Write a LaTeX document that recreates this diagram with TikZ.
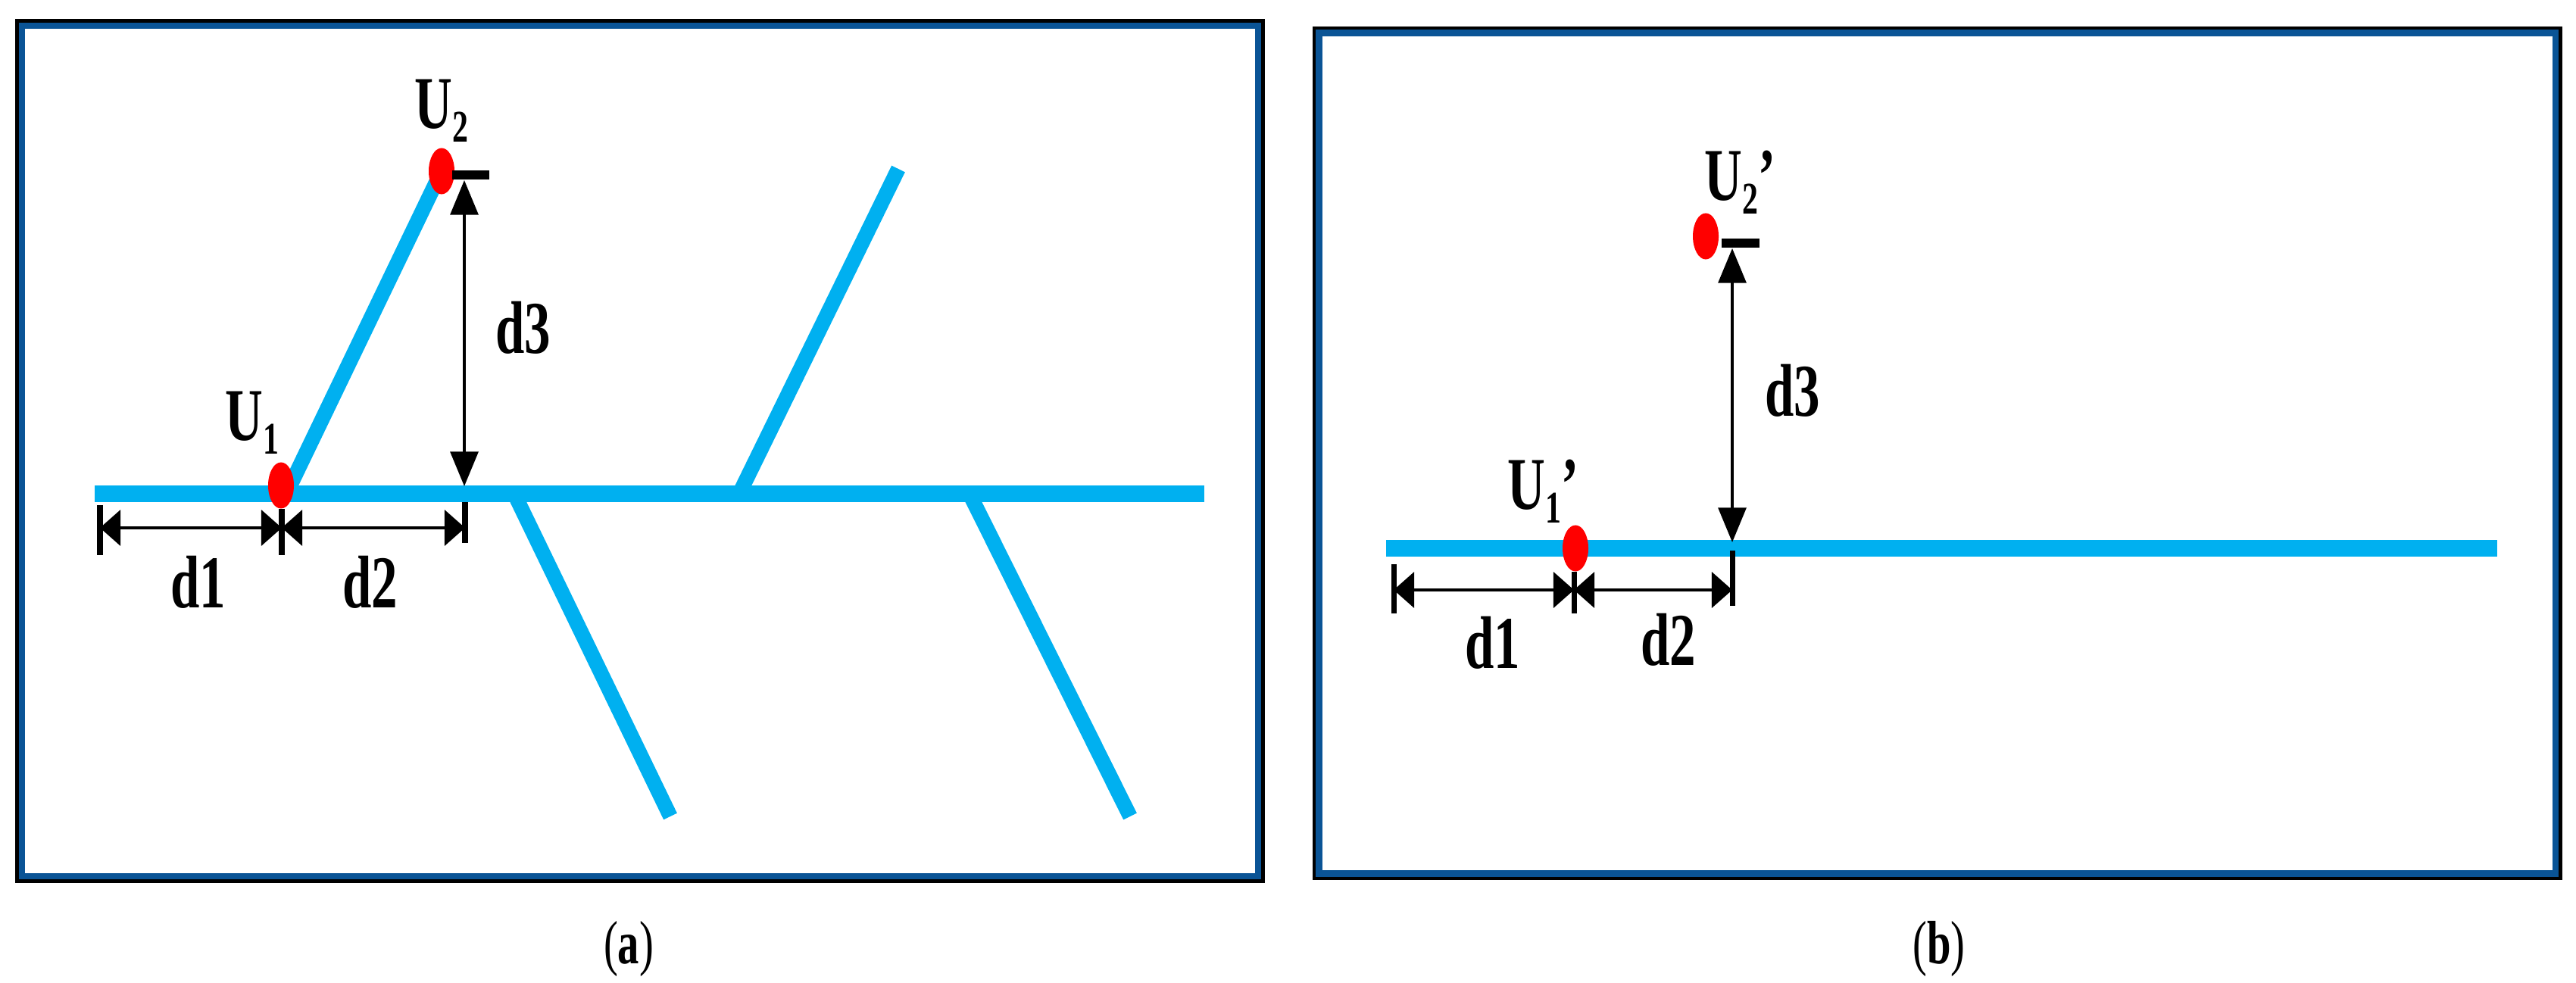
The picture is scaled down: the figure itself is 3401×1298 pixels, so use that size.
\documentclass[tikz,border=0pt]{standalone}
\usepackage{fontspec}
\setmainfont{Liberation Serif}
\usepackage{graphicx}
\usetikzlibrary{arrows.meta,shapes.geometric}
\definecolor{feeder}{RGB}{0,176,240}
\definecolor{framebl}{RGB}{10,84,150}
\newcommand{\lowidx}[1]{\raisebox{-5pt}{\fontsize{17pt}{17pt}\selectfont #1}}
\newcommand{\sqz}[1]{\scalebox{0.7}[1]{#1}}
\begin{document}
\begin{tikzpicture}[x=0.01cm,y=-0.01cm,
  feed/.style={line width=6.4pt,color=feeder},
  branch/.style={line width=5.6pt,color=feeder},
  dot/.style={ellipse,fill=red,minimum width=0.34cm,minimum height=0.61cm,inner sep=0pt},
  tickmark/.style={line width=2pt},
  capmark/.style={line width=3.2pt},
  dimarrow/.style={line width=1pt,{Triangle[length=7.7pt,width=13.4pt]}-{Triangle[length=7.7pt,width=13.4pt]}},
  varrow/.style={line width=1pt,{Triangle[length=13pt,width=10.5pt]}-{Triangle[length=13pt,width=10.5pt]}},
  lbl/.style={font=\fontsize{28pt}{30pt}\selectfont\bfseries,inner sep=0pt},
  captext/.style={font=\fontsize{23pt}{25pt}\selectfont,inner sep=0pt},
  outerframe/.style={draw=black,line width=1.4pt},
  innerframe/.style={draw=framebl,line width=2.3pt}]
\useasboundingbox (0,0) rectangle (3401,1298);
% ---------- panel (a) ----------
\draw[outerframe] (22.5,27.5) rectangle (1667.5,1163.5);
\draw[innerframe] (29,34) rectangle (1661,1157);
\coordinate (aL) at (125,652);
\coordinate (aR) at (1590,652);
\draw[feed] (aL) -- (aR);
\coordinate (a1s) at (378,652); \coordinate (a1e) at (580,232);
\coordinate (a2s) at (976,652); \coordinate (a2e) at (1186,223);
\coordinate (a3s) at (679,652); \coordinate (a3e) at (885,1078);
\coordinate (a4s) at (1280,652); \coordinate (a4e) at (1492,1078);
\draw[branch] (a1s) -- (a1e);
\draw[branch] (a2s) -- (a2e);
\draw[branch] (a3s) -- (a3e);
\draw[branch] (a4s) -- (a4e);
\node[dot] (u1) at (371,641) {};
\node[dot] (u2) at (583,226) {};
\coordinate (ca1) at (597,231); \coordinate (ca2) at (646,231);
\draw[capmark] (ca1) -- (ca2);
\coordinate (va1) at (613,238); \coordinate (va2) at (613,642);
\draw[varrow] (va1) -- (va2);
\coordinate (ta1) at (132,667); \coordinate (ta1b) at (132,733);
\coordinate (ta2) at (372,672); \coordinate (ta2b) at (372,733);
\coordinate (ta3) at (614,663); \coordinate (ta3b) at (614,717);
\draw[tickmark] (ta1) -- (ta1b);
\draw[tickmark] (ta2) -- (ta2b);
\draw[tickmark] (ta3) -- (ta3b);
\coordinate (da1) at (132,697); \coordinate (da2) at (372,697); \coordinate (da3) at (614,697);
\draw[dimarrow] (da1) -- (da2);
\draw[dimarrow] (da2) -- (da3);
\node[lbl,anchor=base west] (lu1) at (297,582) {\sqz{U\lowidx{1}}};
\node[lbl,anchor=base west] (lu2) at (547,170) {\sqz{U\lowidx{2}}};
\node[lbl,anchor=base] (ld1) at (262,802) {\sqz{d1}};
\node[lbl,anchor=base] (ld2) at (489,802) {\sqz{d2}};
\node[lbl,anchor=base] (ld3) at (691,467) {\sqz{d3}};
\node[captext,anchor=base] (capa) at (830,1272) {\sqz{(\textbf{a})}};
% ---------- panel (b) ----------
\draw[outerframe] (1735,37) rectangle (3380,1160);
\draw[innerframe] (1741.5,43.5) rectangle (3373.5,1153.5);
\coordinate (bL) at (1830,724);
\coordinate (bR) at (3297,724);
\draw[feed] (bL) -- (bR);
\node[dot] (v1) at (2080,724) {};
\node[dot] (v2) at (2252,312) {};
\coordinate (cb1) at (2273,321); \coordinate (cb2) at (2323,321);
\draw[capmark] (cb1) -- (cb2);
\coordinate (vb1) at (2287,328); \coordinate (vb2) at (2287,716);
\draw[varrow] (vb1) -- (vb2);
\coordinate (tb1) at (1840,745); \coordinate (tb1b) at (1840,810);
\coordinate (tb2) at (2078,755); \coordinate (tb2b) at (2078,810);
\coordinate (tb3) at (2287,727); \coordinate (tb3b) at (2287,800);
\draw[tickmark] (tb1) -- (tb1b);
\draw[tickmark] (tb2) -- (tb2b);
\draw[tickmark] (tb3) -- (tb3b);
\coordinate (db1) at (1840,779); \coordinate (db2) at (2078,779); \coordinate (db3) at (2287,779);
\draw[dimarrow] (db1) -- (db2);
\draw[dimarrow] (db2) -- (db3);
\node[lbl,anchor=base west] (lv1) at (1990,673) {\sqz{U\lowidx{1}’}};
\node[lbl,anchor=base west] (lv2) at (2250,265) {\sqz{U\lowidx{2}’}};
\node[lbl,anchor=base] (le1) at (1971,883) {\sqz{d1}};
\node[lbl,anchor=base] (le2) at (2203,878) {\sqz{d2}};
\node[lbl,anchor=base] (le3) at (2367,550) {\sqz{d3}};
\node[captext,anchor=base] (capb) at (2560,1272) {\sqz{(\textbf{b})}};
\end{tikzpicture}
\end{document}
